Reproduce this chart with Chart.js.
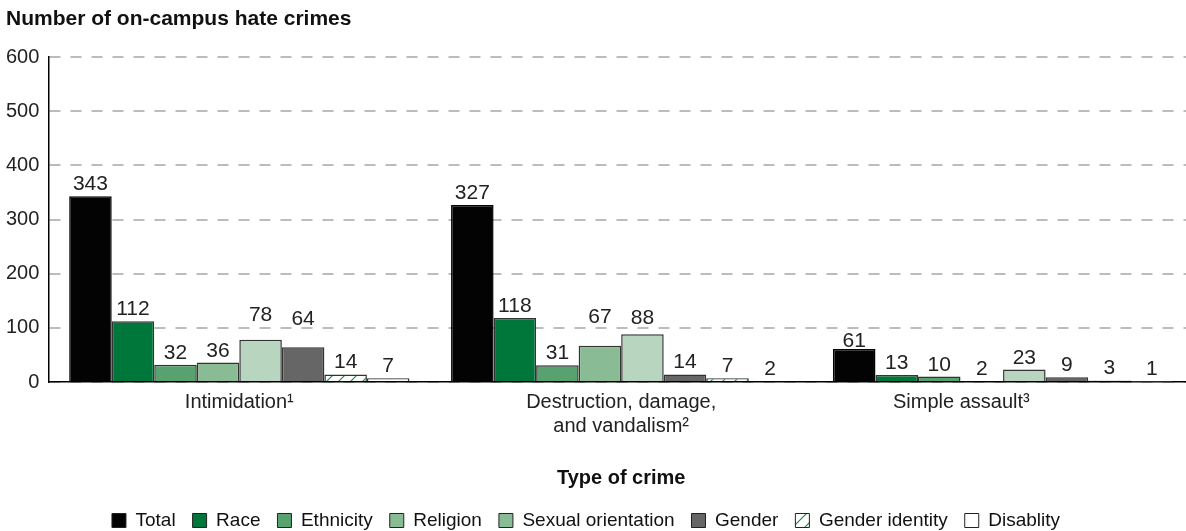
<!DOCTYPE html>
<html>
<head>
<meta charset="utf-8">
<script src="https://cdn.jsdelivr.net/npm/chart.js@4"></script>
<style>
  html, body { margin: 0; padding: 0; background: #fff; overflow: hidden; }
  #wrap { width: 1194px; height: 531px; }
</style>
</head>
<body>
<div id="wrap"><canvas id="crimes-chart" width="1194" height="531"></canvas></div>
<script>
const categories = ["Intimidation¹", ["Destruction, damage,", "and vandalism²"], "Simple assault³"];
const seriesNames = ["Total", "Race", "Ethnicity", "Religion", "Sexual orientation", "Gender", "Gender identity", "Disablity"];
const total = [343, 327, 61];
const race = [112, 118, 13];
const ethnicity = [32, 31, 10];
const religion = [36, 67, 2];
const sexualOrientation = [78, 88, 23];
const gender = [64, 14, 9];
const genderIdentity = [14, 7, 3];
const disability = [7, 2, 1];
const yTicks = [0, 100, 200, 300, 400, 500, 600];

const canvas = document.getElementById("crimes-chart");
const ctx = canvas.getContext("2d");
const font = "'Liberation Sans', Arial, Helvetica, sans-serif";
Chart.defaults.font.family = font;
Chart.defaults.color = "#222";

// green diagonal hatch used for gender identity
function hatchPattern() {
  const tile = document.createElement("canvas");
  tile.width = 12;
  tile.height = 12;
  const g = tile.getContext("2d");
  g.fillStyle = "#ffffff";
  g.fillRect(0, 0, 12, 12);
  g.strokeStyle = "#1e8a4c";
  g.lineWidth = 1.2;
  g.beginPath();
  g.moveTo(0, 12); g.lineTo(12, 0);
  g.moveTo(-3, 3); g.lineTo(3, -3);
  g.moveTo(9, 15); g.lineTo(15, 9);
  g.stroke();
  return ctx.createPattern(tile, "repeat");
}

const fills = ["#030303", "#00773a", "#57a26f", "#89bb94", "#b8d6bf", "#666666", hatchPattern(), "#ffffff"];
const legendFills = ["#030303", "#00773a", "#57a26f", "#89bb94", "#89bb94", "#666666", fills[6], "#ffffff"];
const seriesValues = [total, race, ethnicity, religion, sexualOrientation, gender, genderIdentity, disability];

// a few value labels sit higher than the rest in the original
const labelLift = { "4:0": 13, "5:0": 16, "3:1": 17, "4:1": 4, "0:2": -4 };

const valueLabels = {
  id: "valueLabels",
  afterDatasetsDraw(chart) {
    const c = chart.ctx;
    c.save();
    c.font = `21px ${font}`;
    c.fillStyle = "#222";
    c.textAlign = "center";
    c.textBaseline = "alphabetic";
    chart.data.datasets.forEach((ds, i) => {
      chart.getDatasetMeta(i).data.forEach((bar, j) => {
        const lift = labelLift[`${i}:${j}`] || 0;
        c.fillText(String(ds.data[j]), bar.x, bar.y - 6 - lift);
      });
    });
    c.restore();
  },
};

// legend in the original sits a little left of centre
const legendNudge = {
  id: "legendNudge",
  afterLayout(chart) {
    chart.legend.left -= 14;
    chart.legend.right -= 14;
  },
};

new Chart(canvas, {
  type: "bar",
  data: {
    labels: categories,
    datasets: seriesNames.map((name, i) => ({
      label: name,
      data: seriesValues[i],
      backgroundColor: fills[i],
      borderColor: i === 0 ? "#000" : "#333",
      borderWidth: 1.5,
      borderSkipped: "bottom",
      barPercentage: 1,
      categoryPercentage: 0.891,
    })),
  },
  options: {
    responsive: false,
    animation: false,
    layout: { padding: { left: 6, right: 0, top: 0, bottom: -9 } },
    plugins: {
      tooltip: { enabled: false },
      title: {
        display: true,
        text: "Number of on-campus hate crimes",
        align: "start",
        color: "#111",
        font: { size: 21, weight: "bold" },
        padding: { top: 7, bottom: 25 },
      },
      legend: {
        position: "bottom",
        labels: {
          boxWidth: 14,
          boxHeight: 14,
          padding: 17,
          color: "#111",
          font: { size: 19 },
          generateLabels(chart) {
            return Chart.defaults.plugins.legend.labels.generateLabels(chart).map((item, i) => {
              item.fillStyle = legendFills[i];
              item.strokeStyle = "#222";
              item.lineWidth = 1;
              return item;
            });
          },
        },
      },
    },
    scales: {
      x: {
        grid: { display: false },
        border: { display: true, color: "#000", width: 1.5 },
        ticks: {
          padding: 0,
          color: "#222",
          font: { size: 20 },
          maxRotation: 0,
          autoSkip: false,
          callback(value, index) {
            const label = this.getLabelForValue(value);
            // original label sits left of its bar group
            return index === 2 ? label + " ".repeat(15) : label;
          },
        },
        title: {
          display: true,
          text: "Type of crime",
          color: "#111",
          font: { size: 20, weight: "bold" },
          padding: { top: 28, bottom: 4 },
        },
      },
      y: {
        min: yTicks[0],
        max: yTicks[yTicks.length - 1],
        afterBuildTicks(axis) {
          axis.ticks = yTicks.map((v) => ({ value: v }));
        },
        afterFit(axis) {
          // chart.js reserves the tick padding twice; drop the outer one
          axis.width -= 9;
        },
        grid: { color: "#bcbcbc", lineWidth: 2, drawTicks: false },
        border: { display: true, color: "#000", width: 1.5, dash: [11, 10] },
        ticks: { padding: 9, color: "#222", font: { size: 20 } },
      },
    },
  },
  plugins: [valueLabels, legendNudge],
});
</script>
</body>
</html>
